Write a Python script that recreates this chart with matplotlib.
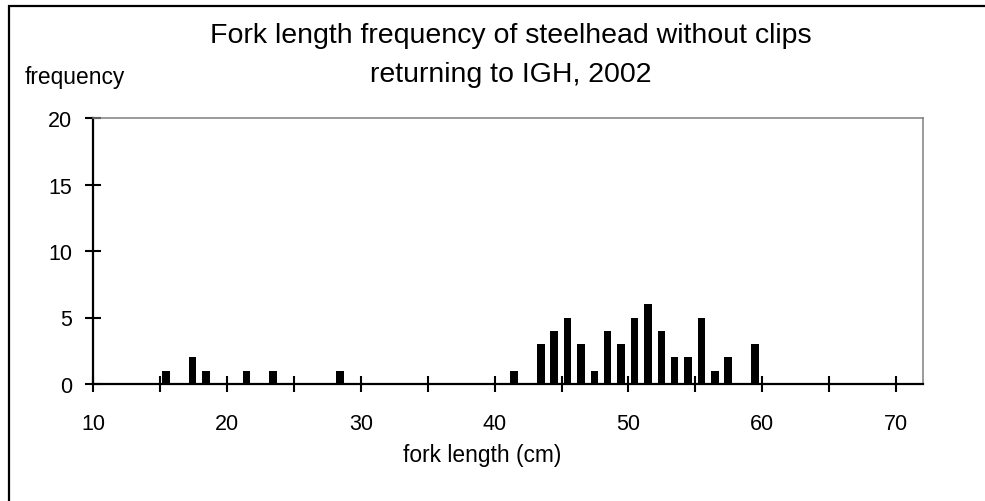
import matplotlib
matplotlib.use("Agg")
import matplotlib.pyplot as plt
from matplotlib.ticker import MultipleLocator, FuncFormatter
from matplotlib.patches import Rectangle
import numpy as np

plt.rcParams['font.family'] = ['Liberation Sans', 'DejaVu Sans']

fork_length = np.array([15, 17, 18, 21, 23, 28, 41, 43, 44, 45, 46, 47, 48,
                        49, 50, 51, 52, 53, 54, 55, 56, 57, 59])
frequency = np.array([1, 2, 1, 1, 1, 1, 1, 3, 4, 5, 3, 1, 4,
                      3, 5, 6, 4, 2, 2, 5, 1, 2, 3])

title_lines = ["Fork length frequency of steelhead without clips",
               "returning to IGH, 2002"]
x_label = "fork length (cm)"
y_label = "frequency"

W, H = 985, 502
fig = plt.figure(figsize=(W / 100, H / 100), dpi=100)
fig.patch.set_facecolor('white')

ax = fig.add_axes([93 / W, 1 - 385 / H, (923 - 93) / W, (385 - 119) / H])
ax.bar(fork_length + 0.45, frequency, width=0.56, color='black', zorder=3)

ax.set_xlim(10, 72)
ax.set_ylim(0, 20)
ax.xaxis.set_major_locator(MultipleLocator(5))
ax.yaxis.set_major_locator(MultipleLocator(5))
ax.xaxis.set_major_formatter(FuncFormatter(lambda v, p: f"{int(round(v))}" if int(round(v)) % 10 == 0 else ""))

for s in ['left', 'bottom']:
    ax.spines[s].set_color('black')
    ax.spines[s].set_linewidth(1.6)
for s in ['top', 'right']:
    ax.spines[s].set_color('#808080')
    ax.spines[s].set_linewidth(1.1)

ax.tick_params(axis='x', direction='inout', length=11, width=1.5, pad=15.5,
               labelsize=15.5, colors='black')
ax.tick_params(axis='y', direction='inout', length=12, width=1.5, pad=9,
               labelsize=15.5, colors='black')
ax.tick_params(top=False, right=False)

fig.text(511 / W, 1 - 43 / H, title_lines[0], ha='center', va='baseline', fontsize=20.5)
fig.text(511 / W, 1 - 82 / H, title_lines[1], ha='center', va='baseline', fontsize=20.5)
fig.text(75 / W, 1 - 84 / H, y_label, ha='center', va='baseline', fontsize=16.4)
fig.text(482 / W, 1 - 462 / H, x_label, ha='center', va='baseline', fontsize=16.4)

border = Rectangle((9 / W, -0.1), 1.2, 1.1 - 6.5 / H, transform=fig.transFigure,
                   fill=False, edgecolor='black', linewidth=1.6, clip_on=False)
fig.patches.append(border)

fig.savefig("out.png", dpi=100)
